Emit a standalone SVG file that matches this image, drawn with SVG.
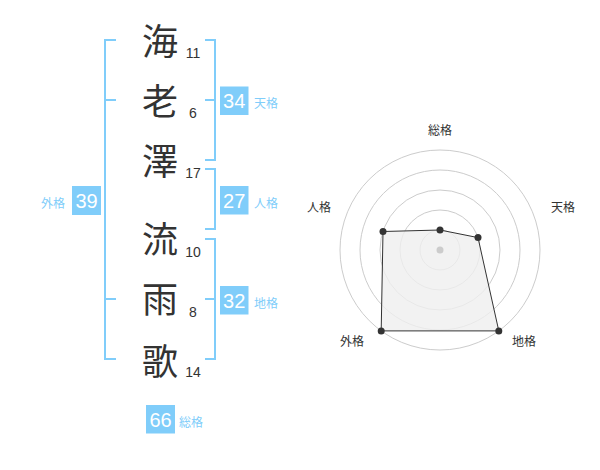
<svg xmlns="http://www.w3.org/2000/svg" width="600" height="470" viewBox="0 0 600 470">
<style>
.k{font-family:"Noto Sans CJK JP","Noto Sans CJK SC",sans-serif;font-size:36px;fill:#333;text-anchor:middle}
.n{font-family:"Liberation Sans",Arial,sans-serif;font-size:14px;fill:#333;text-anchor:middle}
.br{fill:none;stroke:#80cdfa;stroke-width:2}
.box{fill:#80cdfa}
.bt{font-family:"Liberation Sans",Arial,sans-serif;font-size:20px;fill:#fff;text-anchor:middle}
.lb{font-family:"Noto Sans CJK JP","Noto Sans CJK SC",sans-serif;font-size:12px;fill:#80cdfa}
.rl{font-family:"Noto Sans CJK JP","Noto Sans CJK SC",sans-serif;font-size:12px;fill:#333;text-anchor:middle}
.ring{fill:none;stroke:#ccc;stroke-width:1}
.pt{fill:#333}
</style>
<rect width="600" height="470" fill="#fff"/>
<g id="chars">
<text class="k" x="160" y="55">海</text>
<text class="k" x="160" y="115">老</text>
<text class="k" x="160" y="175">澤</text>
<text class="k" x="160" y="253">流</text>
<text class="k" x="160" y="313">雨</text>
<text class="k" x="160" y="375">歌</text>
</g>
<g id="strokes">
<text class="n" x="193" y="58">11</text>
<text class="n" x="193" y="118">6</text>
<text class="n" x="193" y="178">17</text>
<text class="n" x="193" y="257">10</text>
<text class="n" x="193" y="317">8</text>
<text class="n" x="193" y="377">14</text>
</g>
<g id="connectors">
<path class="br" d="M116,40 H105 V359 H116 M105,100 H116 M105,299 H116"/>
<path class="br" d="M205,40 H215 V160 H205 M205,100 H215"/>
<path class="br" d="M205,169 H215 V229 H205"/>
<path class="br" d="M205,239 H215 V359 H205 M205,299 H215"/>
</g>
<g id="gaikaku">
<rect class="box" x="72" y="186" width="29" height="29"/>
<text class="bt" x="86.5" y="207.5">39</text>
<text class="lb" x="41" y="208">外格</text>
</g>
<g id="tenkaku">
<rect class="box" x="220" y="86.5" width="28.5" height="28.5"/>
<text class="bt" x="234.2" y="108">34</text>
<text class="lb" x="254" y="108">天格</text>
</g>
<g id="jinkaku">
<rect class="box" x="220" y="186" width="28.5" height="28.5"/>
<text class="bt" x="234.2" y="207.5">27</text>
<text class="lb" x="254" y="208">人格</text>
</g>
<g id="chikaku">
<rect class="box" x="220" y="286" width="28.5" height="28.5"/>
<text class="bt" x="234.2" y="307.5">32</text>
<text class="lb" x="254" y="308">地格</text>
</g>
<g id="soukaku">
<rect class="box" x="146" y="405" width="29" height="28.5"/>
<text class="bt" x="160.5" y="426.5">66</text>
<text class="lb" x="179" y="427">総格</text>
</g>
<g id="radar">
<circle class="ring" cx="440" cy="250" r="20"/>
<circle class="ring" cx="440" cy="250" r="40"/>
<circle class="ring" cx="440" cy="250" r="60"/>
<circle class="ring" cx="440" cy="250" r="80"/>
<circle class="ring" cx="440" cy="250" r="100"/>
<polygon points="440,230 478,237.6 498.8,330.9 381.2,330.9 383,231.5" fill="#efefef" fill-opacity="0.8" stroke="#333" stroke-width="1"/>
<circle cx="440" cy="250" r="3.5" fill="#ccc"/>
<circle class="pt" cx="440" cy="230" r="3.5"/>
<circle class="pt" cx="478" cy="237.6" r="3.5"/>
<circle class="pt" cx="498.8" cy="330.9" r="3.5"/>
<circle class="pt" cx="381.2" cy="330.9" r="3.5"/>
<circle class="pt" cx="383" cy="231.5" r="3.5"/>
<text class="rl" x="440" y="135">総格</text>
<text class="rl" x="563" y="212">天格</text>
<text class="rl" x="524" y="346">地格</text>
<text class="rl" x="352" y="346">外格</text>
<text class="rl" x="319" y="212">人格</text>
</g>
</svg>
